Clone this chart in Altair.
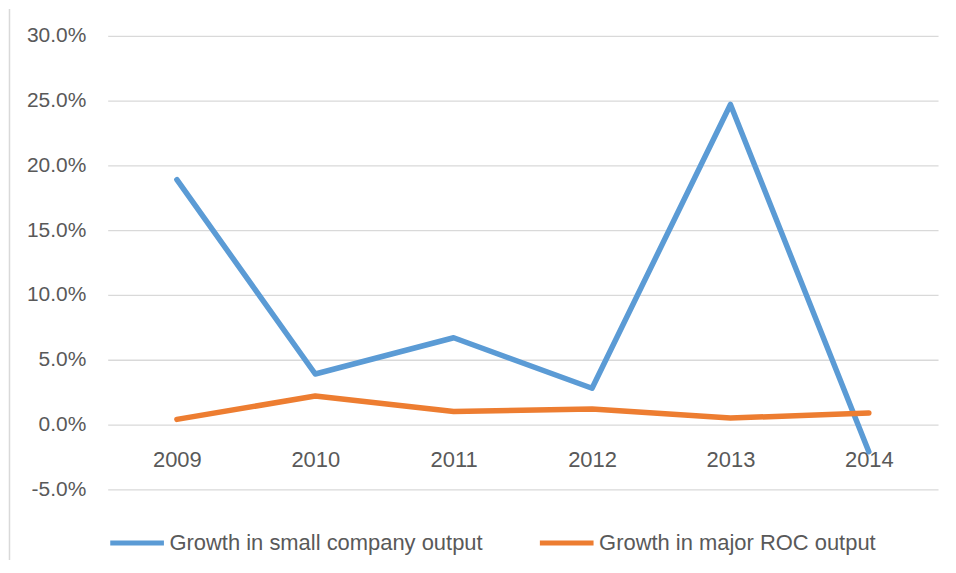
import altair as alt
import pandas as pd

years = ["2009", "2010", "2011", "2012", "2013", "2014"]
series_names = ["Growth in small company output", "Growth in major ROC output"]
small_company = [0.189, 0.039, 0.067, 0.028, 0.247, -0.021]
major_roc = [0.004, 0.022, 0.010, 0.012, 0.005, 0.009]
y_ticks = [-0.05, 0.0, 0.05, 0.10, 0.15, 0.20, 0.25, 0.30]
colors = ["#5B9BD5", "#ED7D31"]

rows = []
for i, y in enumerate(years):
    rows.append({"Year": y, "Series": series_names[0], "Value": small_company[i]})
for i, y in enumerate(years):
    rows.append({"Year": y, "Series": series_names[1], "Value": major_roc[i]})
df = pd.DataFrame(rows)

FONT = "Liberation Sans"

color = alt.Color(
    "Series:N",
    scale=alt.Scale(domain=series_names, range=colors),
    legend=alt.Legend(
        title=None,
        orient="none",
        direction="horizontal",
        legendX=0,
        legendY=479,
        symbolType="stroke",
        symbolSize=2900,
        symbolStrokeWidth=5,
        labelFont=FONT,
        labelFontSize=22,
        labelColor="#595959",
        labelOffset=3,
        columnPadding=46,
        padding=0,
        labelLimit=400,
    ),
)

x = alt.X(
    "Year:O",
    scale=alt.Scale(type="point", padding=0.5),
    axis=alt.Axis(
        title=None,
        labelAngle=0,
        domain=False,
        ticks=False,
        tickSize=0,
        grid=False,
        offset=-65.5,
        labelBaseline="alphabetic",
        labelPadding=43,
    ),
)

y = alt.Y(
    "Value:Q",
    scale=alt.Scale(domain=[-0.05, 0.30], nice=False, zero=False),
    axis=alt.Axis(
        title=None,
        format=".1%",
        labelExpr="replace(datum.label, '\u2212', '-')",
        values=y_ticks,
        domain=False,
        ticks=False,
        tickSize=0,
        labelPadding=22,
        labelFontSize=21,
        gridColor="#d9d9d9",
        gridWidth=1.3,
    ),
)

base = alt.Chart(df).mark_line(strokeWidth=5.5, strokeCap="round", strokeJoin="round").encode(
    x=x, y=y, color=color
)
blue_line = base.transform_filter(alt.datum.Series == series_names[0])
orange_line = base.transform_filter(alt.datum.Series == series_names[1])

border = alt.Chart(pd.DataFrame({"a": [0]})).mark_rule(color="#d9d9d9", strokeWidth=1.5).encode(
    x=alt.value(-98.5), y=alt.value(-27), y2=alt.value(540)
)

chart = alt.layer(border, blue_line, orange_line).properties(
    width=833,
    height=455,
    autosize=alt.AutoSizeParams(type="none"),
    padding={"left": 100, "top": 27, "right": 10, "bottom": 70},
).configure_view(stroke=None).configure_axis(
    labelFont=FONT, labelFontSize=22, labelColor="#595959"
)

chart.save("out.html", embed_options={"renderer": "svg", "actions": False})
